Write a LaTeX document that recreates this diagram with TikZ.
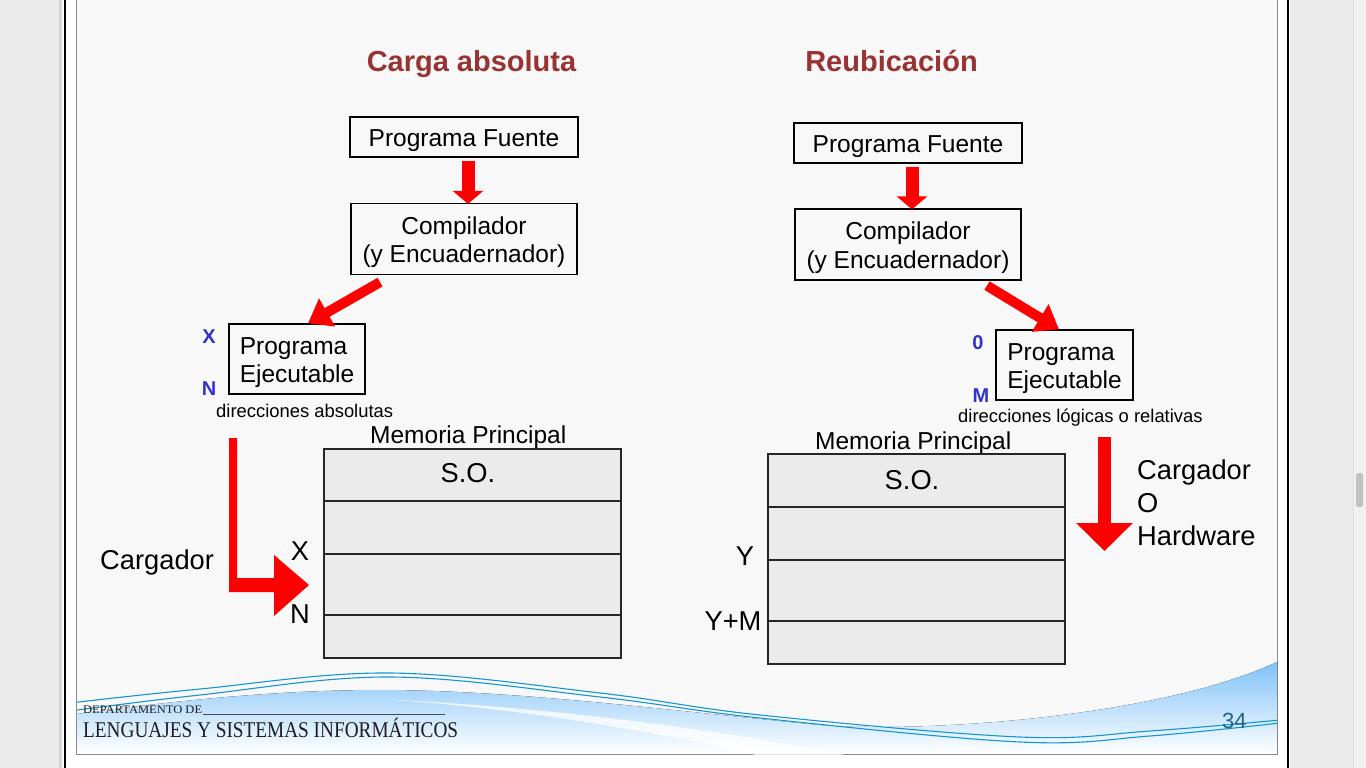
\documentclass[tikz,border=0pt]{standalone}
\usepackage{fontspec}
\setmainfont{Liberation Sans}
\newfontfamily\footserif{Liberation Serif}
\usetikzlibrary{calc,arrows.meta}

\definecolor{slidebg}{RGB}{248,248,248}
\definecolor{outergray}{RGB}{235,235,235}
\definecolor{tracktone}{RGB}{241,241,241}
\definecolor{thumbtone}{RGB}{194,194,194}
\definecolor{titlered}{RGB}{153,51,51}
\definecolor{labelblue}{RGB}{51,51,204}
\definecolor{memfill}{RGB}{235,235,235}
\definecolor{wavecyan}{RGB}{20,150,210}
\definecolor{waveblue}{RGB}{128,194,248}
\definecolor{pagenum}{RGB}{30,100,130}
\definecolor{foottext}{RGB}{30,30,30}

% strut that lifts box texts to their optical centre
\newcommand\boxstrut{\rule{0pt}{24pt}}

\begin{document}
\begin{tikzpicture}[x=1pt,y=-1pt,
  title/.style={font=\fontsize{29}{29}\selectfont\bfseries, text=titlered, inner sep=0pt},
  box/.style={draw=black, line width=1.3pt, font=\fontsize{24.5}{28.5}\selectfont, inner sep=0pt, align=center},
  memrect/.style={draw=black!85, line width=1.5pt, fill=memfill, inner sep=0pt},
  memline/.style={draw=black!85, line width=1.3pt},
  big/.style={font=\fontsize{24.5}{24.5}\selectfont, inner sep=0pt},
  bigger/.style={font=\fontsize{27.3}{33}\selectfont, inner sep=0pt},
  small/.style={font=\fontsize{18.4}{18.4}\selectfont, inner sep=0pt},
  addr/.style={font=\fontsize{20}{20}\selectfont\bfseries, text=labelblue, inner sep=0pt},
  redarr/.style={draw=red, line width=13pt, -{Triangle[width=30pt,length=13pt]}},
  reddiag/.style={draw=red, line width=10pt, -{Triangle[width=31pt,length=22pt]}},
  wave/.style={draw=wavecyan, line width=1.1pt},
]
\useasboundingbox (0,0) rectangle (1366,768);

% ---- window frame and slide background ----
\fill[outergray] (0,0) rectangle (1366,768);
\fill[black!17] (59,0) rectangle (62,768);
\fill[white] (62,0) rectangle (1290,768);
\fill[slidebg] (77,0) rectangle (1277,754);
\draw[black, line width=1.1pt] (65,0) -- (65,768);
\draw[black, line width=1.1pt] (1288,0) -- (1288,768);
\draw[black!45, line width=0.8pt] (76.5,0) -- (76.5,754.5) -- (1277.5,754.5) -- (1277.5,0);
\draw[black!65, line width=1.6pt] (698,753.5) -- (747,753.5);
\fill[tracktone] (1353,0) rectangle (1366,768);
\draw[black!12, line width=0.8pt] (1353,0) -- (1353,768);
\fill[thumbtone, rounded corners=2.5pt] (1356,473) rectangle (1363,507);

% ---- footer wave ----
\begin{scope}
  \clip (77,0) rectangle (1277,754);
  \fill[top color=waveblue, middle color=waveblue!80!white, bottom color=white]
    (77,714) .. controls (180,700) and (280,690) .. (380,690)
    .. controls (520,690) and (680,712) .. (830,726)
    .. controls (960,732) and (1170,712) .. (1277,662)
    -- (1277,754) -- (77,754) -- cycle;
  % light streak across the blue band
  \fill[white, opacity=0.75]
    (380,699) .. controls (520,708) and (660,732) .. (760,756)
    -- (850,756) .. controls (720,730) and (560,708) .. (380,699) -- cycle;
  \draw[wave] plot[smooth, tension=0.6] coordinates
    {(70,703) (200,689) (390,673) (600,693) (760,715) (1020,737) (1150,731) (1280,720)};
  \draw[wave] plot[smooth, tension=0.6] coordinates
    {(70,711) (200,695) (390,677) (600,697) (760,718) (1020,742) (1150,736) (1280,723)};
\end{scope}
\node[anchor=base west, inner sep=0pt, text=foottext] (dept) at (83,713.5)
  {\resizebox{119pt}{\height}{\footserif\fontsize{11.5}{11.5}\selectfont DEPARTAMENTO DE}};
\draw[black!70, line width=0.7pt] (dept.base east) ++(1,1) -- (445,714.5);
\node[anchor=base west, inner sep=0pt, text=foottext] (lsi) at (83,737)
  {\resizebox{375pt}{\height}{\footserif\fontsize{22.5}{22.5}\selectfont LENGUAJES Y SISTEMAS INFORMÁTICOS}};
\node[anchor=base west, inner sep=0pt, text=pagenum, font=\fontsize{22}{22}\selectfont] (pg) at (1222,728) {34};

% ---- titles ----
\node[title, anchor=base] (t1) at (471.5,72) {Carga absoluta};
\node[title, anchor=base] (t2) at (891.5,72) {Reubicación};

% ---- left: absolute loading ----
\node[box, minimum width=228pt, minimum height=40pt] (pf1) at (464,137) {\boxstrut Programa Fuente};
\node[box, minimum width=226pt, minimum height=71pt] (cp1) at (464,239) {\boxstrut Compilador\\(y Encuadernador)};
\node[box, minimum width=136pt, minimum height=70pt, align=left] (ex1) at (297,359) {\boxstrut Programa\\Ejecutable};
\node[addr] (x1) at (209,337) {X};
\node[addr] (n1) at (209,389) {N};
\node[small, anchor=base west] (da1) at (216,417) {direcciones absolutas};

\draw[redarr] ($(pf1.south)+(4,3)$) -- ($(cp1.north)+(4,1)$);
\draw[reddiag] ($(cp1.south)+(-84,7)$) -- ($(ex1.north)+(11,0)$);

\node[big, anchor=base west] (mp1) at (370,443) {Memoria Principal};
\node[memrect, minimum width=297pt, minimum height=209pt] (mem1) at (472.5,553.5) {};
\draw[memline] (324,501) -- (621,501);
\draw[memline] (324,554) -- (621,554);
\draw[memline] (324,615) -- (621,615);
\node[bigger] (so1) at (468,473) {S.O.};
\node[bigger] (mx1) at (300,551) {X};
\node[bigger] (mn1) at (300,614) {N};
\node[bigger, anchor=base west] (cg1) at (100,569) {Cargador};

% loader arrow (L-shaped block arrow)
\fill[red] (229,438) -- (237,438) -- (237,578) -- (274,578) -- (274,555)
  -- (309,585) -- (274,616) -- (274,592) -- (229,592) -- cycle;

% ---- right: relocation ----
\node[box, minimum width=228pt, minimum height=40pt] (pf2) at (908,143) {\boxstrut Programa Fuente};
\node[box, minimum width=226pt, minimum height=71pt] (cp2) at (908,244.5) {\boxstrut Compilador\\(y Encuadernador)};
\node[box, minimum width=137pt, minimum height=70pt, align=left] (ex2) at (1064.5,365) {\boxstrut Programa\\Ejecutable};
\node[addr] (z2) at (978,343) {0};
\node[addr] (m2) at (981,396) {M};
\node[small, anchor=base west] (dl2) at (958,422) {direcciones lógicas o relativas};

\draw[redarr] ($(pf2.south)+(4,3)$) -- ($(cp2.north)+(4,1)$);
\draw[reddiag] ($(cp2.south)+(79,5)$) -- ($(ex2.north)+(-5.5,0)$);

\node[big, anchor=base west] (mp2) at (815,449) {Memoria Principal};
\node[memrect, minimum width=297pt, minimum height=210pt] (mem2) at (916.5,559) {};
\draw[memline] (768,507) -- (1065,507);
\draw[memline] (768,560) -- (1065,560);
\draw[memline] (768,621) -- (1065,621);
\node[bigger] (so2) at (912,480) {S.O.};
\node[bigger] (my2) at (745,556) {Y};
\node[bigger] (mym2) at (733,621) {Y+M};

\coordinate (ld0) at (1104.5,437);
\coordinate (ld1) at (1104.5,551);
\draw[draw=red, line width=13pt, -{Triangle[width=55pt,length=28pt]}] (ld0) -- (ld1);
\node[bigger, align=left, anchor=north west] (cg2) at (1137,459.5) {Cargador\\O\\Hardware};

\end{tikzpicture}
\end{document}
